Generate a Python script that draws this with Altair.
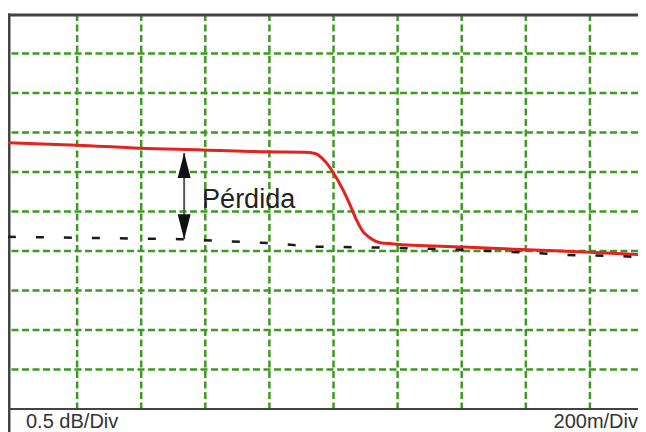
import altair as alt
import pandas as pd

# Trace values in divisions (x: 200 m/div, y: 0.5 dB/div)
red_x = [-0.08, 1.0, 1.98, 2.96, 3.96, 4.55, 4.71, 4.89, 4.99, 5.15, 5.26, 5.36, 5.46, 5.57, 5.73, 5.93, 7.02, 8.02, 9.00, 9.88]
red_y = [6.74, 6.68, 6.60, 6.56, 6.51, 6.50, 6.47, 6.23, 6.00, 5.54, 5.16, 4.78, 4.49, 4.33, 4.21, 4.18, 4.10, 4.03, 3.97, 3.90]
ref_x = [-0.08, 0.31, 2.60, 4.01, 4.68, 5.99, 7.02, 8.02, 8.61, 9.48, 9.88]
ref_y = [4.36, 4.35, 4.30, 4.20, 4.11, 4.08, 4.03, 3.96, 3.90, 3.87, 3.84]
grid_x = [1, 2, 3, 4, 5, 6, 7, 8, 9]
grid_y = [1, 2, 3, 4, 5, 6, 7, 8, 9]
arrow_x = [2.67]
arrow_top = [6.48]
arrow_bottom = [4.30]
label_text = ["Pérdida"]
label_x = [2.95]
label_y = [5.09]
scale_left = ["0.5 dB/Div"]
scale_right = ["200m/Div"]

W, H = 630, 395
GREEN = "#3d9a22"
xs = alt.Scale(domain=[-0.078, 9.75], nice=False, zero=False)
ys = alt.Scale(domain=[0, 10], nice=False, zero=False)

red = pd.DataFrame({"x": red_x, "y": red_y})
ref = pd.DataFrame({"x": ref_x, "y": ref_y})
gx = pd.DataFrame({"g": grid_x})
gy = pd.DataFrame({"g": grid_y})
arr = pd.DataFrame({"x": arrow_x, "top": arrow_top, "bottom": arrow_bottom})
lab = pd.DataFrame({"x": label_x, "y": label_y, "t": label_text})
one = pd.DataFrame({"a": [0]})

vgrid = alt.Chart(gx).mark_rule(color=GREEN, strokeWidth=2.5, strokeDash=[7, 3.5]).encode(
    x=alt.X("g:Q", scale=xs, axis=None))
hgrid = alt.Chart(gy).mark_rule(color=GREEN, strokeWidth=2.5, strokeDash=[7, 3.5]).encode(
    y=alt.Y("g:Q", scale=ys, axis=None))

top_line = alt.Chart(one).mark_rule(color="#444", strokeWidth=3).encode(
    x=alt.value(0), x2=alt.value(W), y=alt.value(1))
bottom_line = alt.Chart(one).mark_rule(color="#444", strokeWidth=2).encode(
    x=alt.value(0), x2=alt.value(W), y=alt.value(H))
left_line = alt.Chart(one).mark_rule(color="#444", strokeWidth=3).encode(
    x=alt.value(1), y=alt.value(-0.5), y2=alt.value(H + 30))

red_line = alt.Chart(red).mark_line(color="#e2231f", strokeWidth=3, interpolate="monotone", clip=True).encode(
    x=alt.X("x:Q", scale=xs, axis=None), y=alt.Y("y:Q", scale=ys, axis=None))
ref_line = alt.Chart(ref).mark_line(color="#1a1a1a", strokeWidth=2.5, strokeDash=[8, 20], clip=True).encode(
    x=alt.X("x:Q", scale=xs, axis=None), y=alt.Y("y:Q", scale=ys, axis=None))

shaft = alt.Chart(arr).mark_rule(color="#555", strokeWidth=2).encode(
    x=alt.X("x:Q", scale=xs, axis=None), y=alt.Y("top:Q", scale=ys, axis=None), y2="bottom:Q")
head_up = alt.Chart(arr).mark_point(shape="M0,0L0.52,2L-0.52,2Z", filled=True, color="#111", size=625, opacity=1).encode(
    x=alt.X("x:Q", scale=xs, axis=None), y=alt.Y("top:Q", scale=ys, axis=None))
head_down = alt.Chart(arr).mark_point(shape="M0,0L0.52,-2L-0.52,-2Z", filled=True, color="#111", size=625, opacity=1).encode(
    x=alt.X("x:Q", scale=xs, axis=None), y=alt.Y("bottom:Q", scale=ys, axis=None))

label = alt.Chart(lab).mark_text(align="left", baseline="alphabetic", fontSize=27,
                                 font="Liberation Sans", color="#222").encode(
    x=alt.X("x:Q", scale=xs, axis=None), y=alt.Y("y:Q", scale=ys, axis=None), text="t:N")

left_txt = alt.Chart(pd.DataFrame({"t": scale_left})).mark_text(
    align="left", baseline="alphabetic", fontSize=20, font="Liberation Sans", color="#333").encode(
    x=alt.value(18), y=alt.value(H + 19), text="t:N")
right_txt = alt.Chart(pd.DataFrame({"t": scale_right})).mark_text(
    align="right", baseline="alphabetic", fontSize=20, font="Liberation Sans", color="#333").encode(
    x=alt.value(630), y=alt.value(H + 19), text="t:N")

chart = alt.layer(
    vgrid, hgrid, top_line, bottom_line, left_line,
    red_line, ref_line, shaft, head_up, head_down, label, left_txt, right_txt
).properties(
    width=W, height=H,
    autosize=alt.AutoSizeParams(type="none"),
    padding={"left": 0, "top": 6, "right": 0, "bottom": 23},
    background="white",
).configure_view(strokeWidth=0)

chart.save("out.html", embed_options={"renderer": "svg", "actions": False})
